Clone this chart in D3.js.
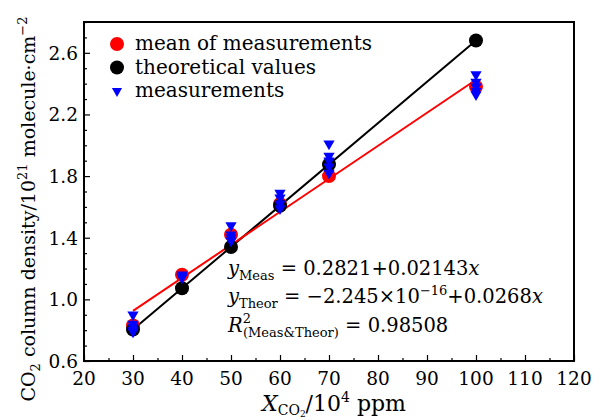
<!DOCTYPE html>
<html><head><meta charset="utf-8">
<script src="https://cdn.jsdelivr.net/npm/d3@7"></script>
<style>body{margin:0;background:#fff}svg{display:block}</style>
</head><body><svg id="c" width="596" height="420" font-family="'DejaVu Serif', serif"></svg>
<script>
const concentrations = [30, 40, 50, 60, 70, 100];
const meanMeasured = [0.83, 1.16, 1.42, 1.62, 1.80, 2.38];
const theoretical = [0.804, 1.072, 1.34, 1.608, 1.876, 2.68];
const measX = [30,30,30,30,30, 40,40,40, 50,50,50,50, 60,60,60,60, 70,70,70,70,70, 100,100,100,100,100];
const measY = [0.90,0.84,0.82,0.80,0.79, 1.16,1.15,1.14, 1.48,1.42,1.40,1.38, 1.69,1.66,1.62,1.59, 2.01,1.93,1.90,1.86,1.82, 2.46,2.41,2.38,2.35,2.33];
const fitMeas = {a: 0.2821, b: 0.02143};
const fitTheor = {a: 0, b: 0.0268};
const xTicks = [20,30,40,50,60,70,80,90,100,110,120];
const yTicks = [0.6,1.0,1.4,1.8,2.2,2.6];
const legendLabels = ["mean of measurements","theoretical values","measurements"];

const svg = d3.select("#c");
const L=84, R=574, T=22, B=361;
const x = d3.scaleLinear().domain([20,120]).range([L,R]);
const y = d3.scaleLinear().domain([0.6,2.8]).range([B,T]);

const gx = svg.append("g").attr("transform",`translate(0,${B})`)
  .call(d3.axisBottom(x).tickValues(d3.range(20,120.1,5)).tickSize(-6).tickFormat(""));
gx.selectAll(".tick line").attr("y2", d => d%10===0 ? -6 : -3).attr("stroke","#000").attr("stroke-width",1.2);
gx.select(".domain").remove();
const gy = svg.append("g").attr("transform",`translate(${L},0)`)
  .call(d3.axisLeft(y).tickValues(d3.range(0.6,2.81,0.1)).tickSize(-6).tickFormat(""));
gy.selectAll(".tick line").attr("x2", (d,i) => i%4===0 ? 6 : 3).attr("stroke","#000").attr("stroke-width",1.2);
gy.select(".domain").remove();

svg.selectAll(".xl").data(xTicks).enter().append("text")
  .attr("x", d=>x(d)).attr("y", B+24).attr("text-anchor","middle").attr("font-size",18.5).text(d=>d);
svg.selectAll(".yl").data(yTicks).enter().append("text")
  .attr("x", L-6).attr("y", d=>y(d)+7).attr("text-anchor","end").attr("font-size",18.5).text(d=>d.toFixed(1));

svg.append("rect").attr("x",L).attr("y",T).attr("width",R-L).attr("height",B-T)
  .attr("fill","none").attr("stroke","#000").attr("stroke-width",2);

const xr = [30,100];
svg.append("line").attr("x1",x(xr[0])).attr("x2",x(xr[1]))
  .attr("y1",y(fitTheor.a+fitTheor.b*xr[0])).attr("y2",y(fitTheor.a+fitTheor.b*xr[1]))
  .attr("stroke","#000").attr("stroke-width",2);
svg.append("line").attr("x1",x(xr[0])).attr("x2",x(xr[1]))
  .attr("y1",y(fitMeas.a+fitMeas.b*xr[0])).attr("y2",y(fitMeas.a+fitMeas.b*xr[1]))
  .attr("stroke","#f00").attr("stroke-width",2);

svg.selectAll(".mm").data(concentrations).enter().append("circle")
  .attr("cx",d=>x(d)).attr("cy",(d,i)=>y(meanMeasured[i])).attr("r",7).attr("fill","#f00");
svg.selectAll(".th").data(concentrations).enter().append("circle")
  .attr("cx",d=>x(d)).attr("cy",(d,i)=>y(theoretical[i])).attr("r",7).attr("fill","#000");
const tri = d3.symbol().type(d3.symbolTriangle).size(55);
svg.selectAll(".ms").data(measX).enter().append("path")
  .attr("d",tri).attr("transform",(d,i)=>`translate(${x(d)},${y(measY[i])}) rotate(180)`).attr("fill","#00f");

const lg = [{c:"#f00",t:"circle"},{c:"#000",t:"circle"},{c:"#00f",t:"tri"}];
lg.forEach((s,i)=>{
  const cy = 44 + i*23.5;
  if(s.t==="circle") svg.append("circle").attr("cx",117).attr("cy",cy).attr("r",7).attr("fill",s.c);
  else svg.append("path").attr("d",d3.symbol().type(d3.symbolTriangle).size(45)).attr("transform",`translate(117,${cy}) rotate(180)`).attr("fill",s.c);
  svg.append("text").attr("x",135).attr("y",cy+6).attr("font-size",20).text(legendLabels[i]);
});

function eq(xp, yp, parts){
  const t = svg.append("text").attr("x",xp).attr("y",yp).attr("font-size",19.5);
  parts.forEach(p=>{
    const s = t.append("tspan").text(p.s);
    if(p.i) s.attr("font-style","italic");
    if(p.sz) s.attr("font-size",p.sz);
    if(p.dy!==undefined) s.attr("dy",p.dy);
    if(p.dx!==undefined) s.attr("dx",p.dx);
  });
  return t;
}
eq(228,275,[{s:"y",i:1},{s:"Meas",sz:13,dy:5},{s:" = 0.2821+0.02143",dy:-5},{s:"x",i:1}]);
eq(228,303,[{s:"y",i:1},{s:"Theor",sz:13,dy:5},{s:" = −2.245×10",dy:-5},{s:"−16",sz:13,dy:-8},{s:"+0.0268",dy:8},{s:"x",i:1}]);
eq(228,332,[{s:"R",i:1},{s:"2",sz:13,dy:-9},{s:"(Meas&Theor)",sz:13,dy:14,dx:-8},{s:" = 0.98508",dy:-5}]);

const xt = svg.append("text").attr("x",262).attr("y",411).attr("font-size",22);
xt.append("tspan").attr("font-style","italic").text("X");
xt.append("tspan").attr("font-size",14).attr("dy",4).text("CO");
xt.append("tspan").attr("font-size",9).attr("dy",2).text("2");
xt.append("tspan").attr("dy",-6).text("/10");
xt.append("tspan").attr("font-size",14).attr("dy",-9).text("4");
xt.append("tspan").attr("dy",9).text(" ppm");

const yt = svg.append("text").attr("transform","translate(35,209) rotate(-90)").attr("text-anchor","middle").attr("font-size",19);
yt.append("tspan").text("CO");
yt.append("tspan").attr("font-size",13).attr("dy",5).text("2");
yt.append("tspan").attr("dy",-5).text(" column density/10");
yt.append("tspan").attr("font-size",13).attr("dy",-8).text("21");
yt.append("tspan").attr("dy",8).text(" molecule·cm");
yt.append("tspan").attr("font-size",13).attr("dy",-8).text("−2");
</script></body></html>
